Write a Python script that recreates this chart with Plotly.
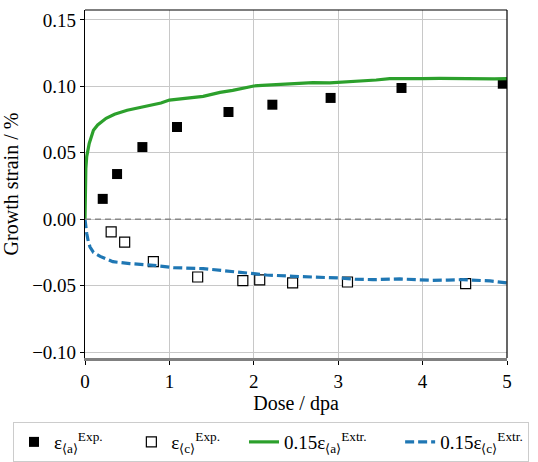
import plotly.graph_objects as go

# Experimental data
exp_a_dose = [0.21, 0.38, 0.68, 1.09, 1.70, 2.22, 2.91, 3.75, 4.95]
exp_a_strain = [0.0153, 0.034, 0.0543, 0.0694, 0.0807, 0.0862, 0.0913, 0.0988, 0.102]
exp_c_dose = [0.31, 0.47, 0.81, 1.335, 1.87, 2.07, 2.46, 3.11, 4.51]
exp_c_strain = [-0.0096, -0.0173, -0.032, -0.0435, -0.0462, -0.0457, -0.048, -0.0473, -0.0485]

# Extracted (scaled) curves
extr_a_dose = [0.0, 0.005, 0.01, 0.02, 0.05, 0.1, 0.15, 0.25, 0.35, 0.5, 0.6, 0.7, 0.8, 0.9,
               1.0, 1.1, 1.2, 1.3, 1.4, 1.5, 1.6, 1.75, 1.85, 2.0, 2.1, 2.3, 2.5, 2.7, 2.9,
               3.0, 3.1, 3.26, 3.45, 3.61, 3.8, 4.0, 4.2, 4.4, 4.68, 4.85, 5.0]
extr_a_strain = [0.0, 0.028, 0.038, 0.047, 0.057, 0.067, 0.071, 0.076, 0.079, 0.082, 0.0835, 0.085,
                 0.0862, 0.0875, 0.0897, 0.0905, 0.091, 0.0918, 0.0925, 0.094, 0.0955, 0.097,
                 0.0985, 0.1003, 0.1008, 0.1015, 0.1025, 0.1028, 0.1027, 0.103, 0.1032, 0.104,
                 0.1048, 0.1058, 0.1056, 0.1059, 0.106, 0.1057, 0.1058, 0.1056, 0.1058]
extr_c_dose = [0.0, 0.01, 0.02, 0.04, 0.06, 0.1, 0.18, 0.33, 0.53, 0.81, 1.05, 1.4, 1.6, 1.84,
               2.15, 2.47, 2.75, 3.02, 3.2, 3.41, 3.73, 3.9, 4.12, 4.3, 4.48, 4.8, 5.0]
extr_c_strain = [0.0, -0.006, -0.0106, -0.017, -0.021, -0.025, -0.028, -0.032, -0.0334, -0.0347,
                 -0.0365, -0.0372, -0.0385, -0.0405, -0.042, -0.043, -0.0435, -0.0443, -0.0452,
                 -0.0455, -0.045, -0.0455, -0.046, -0.0458, -0.0455, -0.0465, -0.048]

FONT = "Liberation Serif"
NB = "&nbsp;"

fig = go.Figure()
fig.add_trace(go.Scatter(x=exp_a_dose, y=exp_a_strain, mode="markers",
                         marker=dict(symbol="square", size=10, color="black"),
                         name="ε<sub>⟨a⟩</sub><sup>Exp.</sup>" + NB * 5))
fig.add_trace(go.Scatter(x=exp_c_dose, y=exp_c_strain, mode="markers",
                         marker=dict(symbol="square", size=10, color="white",
                                     line=dict(color="black", width=1.2)),
                         name="ε<sub>⟨c⟩</sub><sup>Exp.</sup>" + NB * 4))
fig.add_trace(go.Scatter(x=extr_a_dose, y=extr_a_strain, mode="lines",
                         line=dict(color="#2ca02c", width=3.2),
                         name="0.15ε<sub>⟨a⟩</sub><sup>Extr.</sup>" + NB * 6))
fig.add_trace(go.Scatter(x=extr_c_dose, y=extr_c_strain, mode="lines",
                         line=dict(color="#1f77b4", width=3.2, dash="9px,4px"),
                         name="0.15ε<sub>⟨c⟩</sub><sup>Extr.</sup>"))

fig.add_shape(type="line", xref="x domain", yref="y", x0=0, x1=1, y0=0, y1=0,
              line=dict(color="#888888", width=1.5, dash="6px,4px"), layer="above")
fig.add_shape(type="line", xref="x domain", yref="y domain", x0=0, x1=1, y0=1, y1=1,
              line=dict(color="black", width=1.2))
fig.add_shape(type="line", xref="x domain", yref="y domain", x0=1, x1=1, y0=0, y1=1,
              line=dict(color="black", width=1.2))

fig.update_layout(
    width=538, height=462,
    margin=dict(l=85, r=0, t=10, b=104, autoexpand=False),
    plot_bgcolor="white", paper_bgcolor="white",
    font=dict(family=FONT, size=19, color="black"),
    showlegend=True,
    legend=dict(orientation="h", x=-0.159, xanchor="left", y=-0.184, yanchor="top",
                bordercolor="#cccccc", borderwidth=1, bgcolor="white",
                font=dict(family=FONT, size=19), itemwidth=30),
    xaxis=dict(domain=[0, 422 / 453], range=[0, 5], tickvals=[0, 1, 2, 3, 4, 5],
               ticktext=["0", "1", "2", "3", "4", "5"],
               tickfont=dict(family=FONT, size=19, color="black"),
               showgrid=True, gridcolor="#c8c8c8", gridwidth=1, zeroline=False,
               showline=True, linecolor="#808080", linewidth=2.5,
               ticks="outside", ticklen=4, tickcolor="black",
               title=dict(text="Dose / dpa", font=dict(family=FONT, size=20), standoff=2)),
    yaxis=dict(range=[-0.1045, 0.1575], tickvals=[-0.10, -0.05, 0.0, 0.05, 0.10, 0.15],
               tickformat=".2f",
               tickfont=dict(family=FONT, size=19, color="black"),
               showgrid=True, gridcolor="#c8c8c8", gridwidth=1, zeroline=False,
               showline=True, linecolor="black", linewidth=1.2,
               ticks="outside", ticklen=4, tickcolor="black",
               title=dict(text="Growth strain / %", font=dict(family=FONT, size=20), standoff=8)),
)

fig.write_html("out.html")
